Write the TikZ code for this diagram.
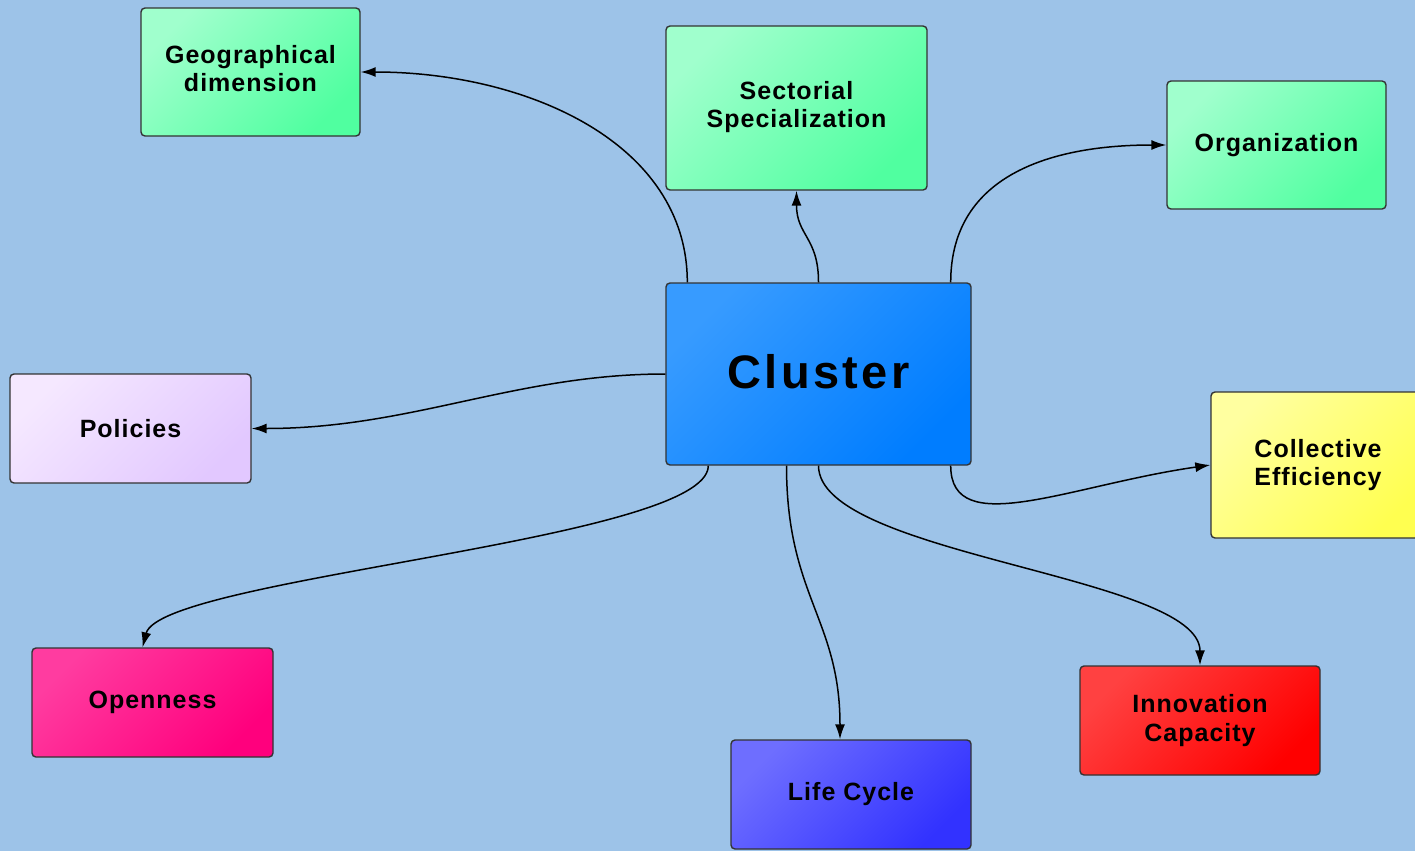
\documentclass[tikz,border=0pt]{standalone}
\usepackage{fontspec}
\newfontfamily\lbl[LetterSpace=4]{Liberation Sans}
\newfontfamily\clfont[LetterSpace=7]{Liberation Sans}
\usetikzlibrary{arrows.meta,calc}
\definecolor{bg}{RGB}{157,195,232}
\definecolor{grA}{RGB}{160,255,205}
\definecolor{grB}{RGB}{80,255,160}
\definecolor{blA}{RGB}{55,155,255}
\definecolor{blB}{RGB}{0,125,255}
\definecolor{plA}{RGB}{245,232,255}
\definecolor{plB}{RGB}{226,200,255}
\definecolor{ylA}{RGB}{255,255,160}
\definecolor{ylB}{RGB}{255,255,80}
\definecolor{pkA}{RGB}{255,60,160}
\definecolor{pkB}{RGB}{255,0,125}
\definecolor{lcA}{RGB}{110,110,255}
\definecolor{lcB}{RGB}{50,50,255}
\definecolor{rdA}{RGB}{255,65,65}
\definecolor{rdB}{RGB}{255,0,0}
\begin{document}
\begin{tikzpicture}[x=1pt,y=-1pt,
  box/.style={draw=black!80, line width=1.4pt, rounded corners=4pt,
    font=\lbl\bfseries\fontsize{25}{28.5}\selectfont, align=center, inner sep=0pt,
    shading=axis, shading angle=45},
  grad/.style 2 args={top color=#1, bottom color=#2, shading angle=45},
  conn/.style={line width=1.5pt, -{Latex[length=15pt,width=10pt]}}]
\fill[bg] (0,0) rectangle (1415,851);
\useasboundingbox (0,0) rectangle (1415,851);
\clip (0,0) rectangle (1415,851);
\node[box, grad={grA}{grB}, minimum width=219pt, minimum height=128pt] (geo) at (250.5,72) {\raisebox{3pt}{\begin{tabular}{@{}c@{}}Geographical\\dimension\end{tabular}}};
\node[box, grad={grA}{grB}, minimum width=261pt, minimum height=164pt] (sect) at (796.5,108) {\raisebox{3pt}{\begin{tabular}{@{}c@{}}Sectorial\\Specialization\end{tabular}}};
\node[box, grad={grA}{grB}, minimum width=219pt, minimum height=128pt] (org) at (1276.5,145) {Organization};
\node[box, grad={blA}{blB}, minimum width=305pt, minimum height=182pt, font=\clfont\bfseries\fontsize{47}{50}\selectfont] (cl) at (818.5,374) {\raisebox{6pt}{Cluster}};
\node[box, grad={plA}{plB}, minimum width=241pt, minimum height=109pt] (pol) at (130.5,428.5) {Policies};
\node[box, grad={ylA}{ylB}, minimum width=214pt, minimum height=146pt] (coll) at (1318,465) {Collective\\Efficiency};
\node[box, grad={pkA}{pkB}, minimum width=241pt, minimum height=109pt] (open) at (152.5,702.5) {Openness};
\node[box, grad={lcA}{lcB}, minimum width=240pt, minimum height=109pt] (life) at (851,794.5) {Life Cycle};
\node[box, grad={rdA}{rdB}, minimum width=240pt, minimum height=109pt] (innov) at (1200,720.5) {Innovation\\Capacity};
\draw[conn] ([xshift=22pt]cl.north west) .. controls +(0,-140) and +(165,0) .. (geo.east);
\draw[conn] (cl.north) .. controls +(0,-45) and +(0,45) .. (sect.south);
\draw[conn] ([xshift=-21pt]cl.north east) .. controls +(0,-110) and +(-110,0) .. (org.west);
\draw[conn] (cl.west) .. controls +(-150,0) and +(160,0) .. (pol.east);
\draw[conn] ([xshift=-21pt]cl.south east) .. controls +(0,75) and +(-140,20) .. (coll.west);
\draw[conn] ([xshift=43pt]cl.south west) .. controls +(0,75) and +(18,-70) .. ([xshift=-10pt]open.north);
\draw[conn] ([xshift=-32pt]cl.south) .. controls +(0,130) and +(0,-120) .. ([xshift=-11pt]life.north);
\draw[conn] (cl.south) .. controls +(0,90) and +(0,-90) .. (innov.north);
\end{tikzpicture}
\end{document}
